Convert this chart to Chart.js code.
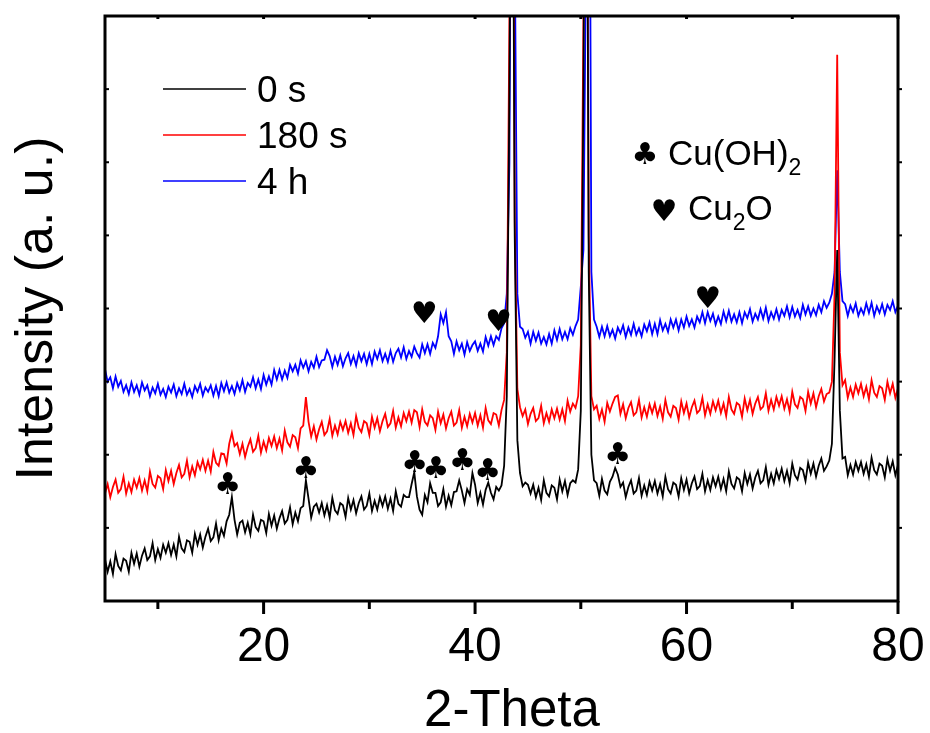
<!DOCTYPE html>
<html>
<head>
<meta charset="utf-8">
<script src="https://cdn.jsdelivr.net/npm/chart.js@4.4.1/dist/chart.umd.min.js"></script>
<style>
  html, body { margin: 0; padding: 0; background: #fff; }
  #wrap { width: 930px; height: 733px; }
</style>
</head>
<body>
<div id="wrap"><canvas id="xrdChart" width="930" height="733"></canvas></div>
<script>
// 2-theta grid (deg)
const twoTheta = [
  5,5.25,5.5,5.75,6,6.25,6.5,6.75,7,7.25,7.5,7.75,8,8.25,8.5,8.75,9,9.25,9.5,9.75,
  10,10.25,10.5,10.75,11,11.25,11.5,11.75,12,12.25,12.5,12.75,13,13.25,13.5,13.75,14,14.25,14.5,14.75,
  15,15.25,15.5,15.75,16,16.25,16.5,16.75,17,17.25,17.5,17.75,18,18.25,18.5,18.75,19,19.25,19.5,19.75,
  20,20.25,20.5,20.75,21,21.25,21.5,21.75,22,22.25,22.5,22.75,23,23.25,23.5,23.75,24,24.25,24.5,24.75,
  25,25.25,25.5,25.75,26,26.25,26.5,26.75,27,27.25,27.5,27.75,28,28.25,28.5,28.75,29,29.25,29.5,29.75,
  30,30.25,30.5,30.75,31,31.25,31.5,31.75,32,32.25,32.5,32.75,33,33.25,33.5,33.75,34,34.25,34.5,34.75,
  35,35.25,35.5,35.75,36,36.25,36.5,36.75,37,37.25,37.5,37.75,38,38.25,38.5,38.75,39,39.25,39.5,39.75,
  40,40.25,40.5,40.75,41,41.25,41.5,41.75,42,42.25,42.5,42.75,43,43.25,43.5,43.75,44,44.25,44.5,44.75,
  45,45.25,45.5,45.75,46,46.25,46.5,46.75,47,47.25,47.5,47.75,48,48.25,48.5,48.75,49,49.25,49.5,49.75,
  50,50.25,50.5,50.75,51,51.25,51.5,51.75,52,52.25,52.5,52.75,53,53.25,53.5,53.75,54,54.25,54.5,54.75,
  55,55.25,55.5,55.75,56,56.25,56.5,56.75,57,57.25,57.5,57.75,58,58.25,58.5,58.75,59,59.25,59.5,59.75,
  60,60.25,60.5,60.75,61,61.25,61.5,61.75,62,62.25,62.5,62.75,63,63.25,63.5,63.75,64,64.25,64.5,64.75,
  65,65.25,65.5,65.75,66,66.25,66.5,66.75,67,67.25,67.5,67.75,68,68.25,68.5,68.75,69,69.25,69.5,69.75,
  70,70.25,70.5,70.75,71,71.25,71.5,71.75,72,72.25,72.5,72.75,73,73.25,73.5,73.75,74,74.25,74.5,74.75,
  75,75.25,75.5,75.75,76,76.25,76.5,76.75,77,77.25,77.5,77.75,78,78.25,78.5,78.75,79,79.25,79.5,79.75,
  80
];

// intensities (a.u., offset curves)
const int0s = [
  57,40,54,37,64,48,42,58,55,40,66,51,65,47,62,72,56,61,79,56,
  71,59,77,66,79,63,77,61,88,72,67,83,81,66,92,77,91,73,88,99,
  82,87,106,83,99,89,109,118,142,111,91,107,110,94,107,91,118,101,96,111,
  109,93,119,103,117,99,113,123,106,111,128,105,121,109,127,130,165,140,114,129,
  133,121,134,117,131,114,141,124,119,134,131,115,141,125,138,120,134,143,125,130,
  147,123,137,125,142,130,143,126,140,123,150,133,129,145,142,142,160,176,143,125,
  118,145,135,161,148,148,130,135,153,129,144,131,149,150,165,151,134,153,145,175,
  159,134,148,132,152,162,148,139,156,151,158,185,280,700,1300,500,220,175,157,162,
  159,147,159,142,155,138,165,148,143,158,155,139,166,150,164,145,161,165,162,180,
  260,700,1400,450,200,165,161,144,167,151,146,163,170,182,173,156,162,142,156,165,
  147,151,168,144,158,145,163,151,164,147,160,143,170,153,147,162,159,143,168,152,
  166,147,161,170,153,157,174,150,165,152,169,157,170,153,167,150,177,160,154,169,
  166,150,175,160,173,154,169,178,161,165,183,159,174,161,179,167,181,164,178,161,
  188,172,166,182,179,164,189,174,188,170,185,195,178,184,192,215,330,480,260,195,
  197,172,186,173,190,178,190,174,187,170,196,179,173,188,185,169,194,178,191,172,
  186
];

const int180s = [
  147,160,142,156,166,148,153,170,147,161,149,166,155,168,151,165,150,177,160,155,
  171,168,153,179,164,178,160,175,186,169,174,192,169,184,172,190,180,193,178,192,
  177,204,189,185,202,201,188,215,230,212,216,201,215,197,211,221,204,209,226,203,
  218,206,223,212,225,209,222,206,233,217,211,227,224,209,236,240,279,245,225,239,
  221,235,245,227,232,249,226,240,228,245,234,246,230,243,227,253,237,231,246,243,
  227,252,237,250,232,246,256,238,243,260,237,251,239,257,246,259,244,261,258,238,
  262,245,240,254,250,234,259,243,255,236,250,259,240,244,261,237,252,239,256,244,
  257,240,254,237,264,247,242,257,255,240,261,275,340,800,1400,520,290,265,253,262,
  242,256,264,246,250,267,243,257,245,262,250,263,248,262,246,274,259,270,264,280,
  350,800,1400,500,280,262,267,249,262,245,271,259,270,279,281,256,269,250,264,272,
  254,258,275,251,265,252,269,257,270,253,266,249,275,258,252,267,264,248,273,257,
  270,251,265,274,257,261,278,254,269,256,273,261,274,257,270,253,279,262,256,271,
  268,252,277,261,275,256,270,279,262,266,284,260,275,262,279,267,280,263,276,259,
  286,269,264,279,276,260,286,270,284,265,280,290,273,283,285,300,420,747,340,295,
  302,278,292,279,296,284,297,280,293,276,302,285,279,294,291,275,300,284,297,278,
  291
];

const int4h = [
  317,300,306,291,307,293,301,286,295,283,299,286,295,282,299,288,295,280,292,284,
  297,282,290,279,293,285,296,280,291,283,297,282,290,279,294,286,297,281,292,286,
  295,281,294,280,298,287,299,285,294,283,298,288,302,286,298,293,306,291,303,290,
  309,296,307,296,316,303,316,303,315,305,323,314,323,311,329,319,328,314,327,319,
  334,320,329,330,343,335,320,334,323,336,321,332,339,324,335,322,339,328,338,324,
  338,324,341,331,343,328,338,327,342,327,339,345,333,347,331,342,334,348,339,333,
  351,339,351,338,353,346,362,392,380,395,362,355,338,355,343,352,337,354,342,350,
  355,342,352,341,361,349,362,350,362,357,373,380,420,600,1400,900,420,375,372,360,
  368,352,368,356,367,352,361,351,365,352,370,357,372,358,368,358,373,364,376,385,
  430,480,900,1400,450,385,375,361,375,362,376,362,371,359,374,366,377,361,374,364,
  379,364,373,362,378,369,381,365,379,365,384,370,379,368,385,374,385,370,385,374,
  389,376,385,374,389,381,395,380,395,383,393,378,389,379,396,383,397,382,392,381,
  395,380,395,387,399,382,393,385,399,386,401,383,395,386,399,385,398,390,403,388,
  402,389,398,387,405,392,403,390,400,391,405,395,410,401,408,420,450,589,450,410,
  406,390,404,395,407,390,400,392,407,394,408,390,403,394,406,392,405,398,410,395,
  404
];

const seriesLabels = ['0 s', '180 s', '4 h'];
const seriesColors = ['#000000', '#ff0000', '#0000ff'];

const xLabelTicks = [20, 40, 60, 80];
const xMinorTicks = [10, 30, 50, 70];
const yTicks = [100, 200, 300, 400, 500, 600, 700];

// phase markers: [2theta, intensity]
const clubX = [16.6, 24.0, 34.3, 36.3, 38.8, 41.2, 53.5];
const clubY = [157, 179, 187, 179, 190, 176, 198];
const heartX = [35.2, 42.2, 62.0];
const heartY = [391, 380, 412];

const FONT = "'Liberation Sans', Arial, sans-serif";

function toPoints(values) {
    return twoTheta.map((t, i) => ({ x: t, y: values[i] }));
}

// text with a subscript part, e.g. Cu(OH)2
function drawFormula(ctx, parts, x, y) {
    parts.forEach(([txt, sub]) => {
        ctx.font = (sub ? '23px ' : '35px ') + FONT;
        ctx.fillText(txt, x, sub ? y + 10 : y);
        x += ctx.measureText(txt).width;
    });
}

// Frame, ticks, legend and phase labels
const decorPlugin = {
    id: 'decor',
    afterDatasetsDraw(chart) {
        const { ctx, chartArea: a, scales: { x, y } } = chart;
        ctx.save();
        ctx.strokeStyle = '#000';
        ctx.lineWidth = 3;
        ctx.strokeRect(a.left, a.top, a.right - a.left, a.bottom - a.top);

        const tick = (x1, y1, x2, y2) => {
            ctx.beginPath();
            ctx.moveTo(x1, y1);
            ctx.lineTo(x2, y2);
            ctx.stroke();
        };
        xLabelTicks.concat(xMinorTicks).forEach(v => {
            const px = x.getPixelForValue(v);
            const len = xLabelTicks.includes(v) ? 13 : 8;
            tick(px, a.bottom, px, a.bottom + len);
            tick(px, a.top, px, a.top + 3);
        });
        ctx.lineWidth = 2;
        yTicks.forEach(v => {
            const py = y.getPixelForValue(v);
            tick(a.left, py, a.left + 4, py);
            tick(a.right, py, a.right + 4, py);
        });

        // legend
        chart.data.datasets.forEach((ds, i) => {
            const ly = 89 + i * 46;
            ctx.strokeStyle = ds.borderColor;
            ctx.lineWidth = 1.5;
            tick(163, ly, 246, ly);
            ctx.fillStyle = '#000';
            ctx.font = '37px ' + FONT;
            ctx.textAlign = 'left';
            ctx.textBaseline = 'middle';
            ctx.fillText(ds.label, 257, ly + 3);
        });

        // x title
        ctx.font = '51px ' + FONT;
        ctx.textAlign = 'center';
        ctx.textBaseline = 'alphabetic';
        ctx.fillText('2-Theta', 512, 726);

        // phase key
        ctx.font = '30px DejaVu Sans';
        ctx.fillText('\u2663', 645, 164);
        ctx.fillText('\u2665', 664, 221);
        ctx.textAlign = 'left';
        drawFormula(ctx, [['Cu(OH)', false], ['2', true]], 668, 165);
        drawFormula(ctx, [['Cu', false], ['2', true], ['O', false]], 688, 220);

        // peak markers
        ctx.font = '30px DejaVu Sans';
        ctx.textAlign = 'center';
        ctx.textBaseline = 'middle';
        clubX.forEach((t, i) => ctx.fillText('\u2663', x.getPixelForValue(t), y.getPixelForValue(clubY[i])));
        heartX.forEach((t, i) => ctx.fillText('\u2665', x.getPixelForValue(t), y.getPixelForValue(heartY[i])));
        ctx.restore();
    }
};

const ctx = document.getElementById('xrdChart').getContext('2d');

const xrdChart = new Chart(ctx, {
    type: 'scatter',
    data: {
        datasets: [int0s, int180s, int4h].map((vals, i) => ({
            label: seriesLabels[i],
            data: toPoints(vals),
            showLine: true,
            borderColor: seriesColors[i],
            backgroundColor: seriesColors[i],
            borderWidth: 1.8,
            pointRadius: 0,
            tension: 0
        }))
    },
    options: {
        responsive: false,
        animation: false,
        devicePixelRatio: 1,
        layout: { padding: { top: 16, right: 32, left: 0, bottom: 0 } },
        plugins: {
            legend: { display: false },
            tooltip: { enabled: false }
        },
        scales: {
            x: {
                type: 'linear',
                min: 5,
                max: 80,
                grid: { display: false, drawTicks: false },
                border: { display: false },
                afterBuildTicks: scale => { scale.ticks = xLabelTicks.map(v => ({ value: v })); },
                afterFit: scale => {
                    scale.height = 132;
                    scale.paddingLeft = 0;
                    scale.paddingRight = 0;
                },
                ticks: {
                    color: '#000',
                    padding: 18,
                    maxRotation: 0,
                    font: { family: FONT, size: 48 }
                },
                title: { display: false, text: '2-Theta' }
            },
            y: {
                type: 'linear',
                min: 0,
                max: 800,
                grid: { display: false, drawTicks: false },
                border: { display: false },
                afterFit: scale => { scale.width = 105; },
                ticks: { display: false },
                title: {
                    display: true,
                    text: 'Intensity (a. u.)',
                    color: '#000',
                    padding: { top: 6, bottom: 0 },
                    font: { family: FONT, size: 52 }
                }
            }
        }
    },
    plugins: [decorPlugin]
});
</script>
</body>
</html>
